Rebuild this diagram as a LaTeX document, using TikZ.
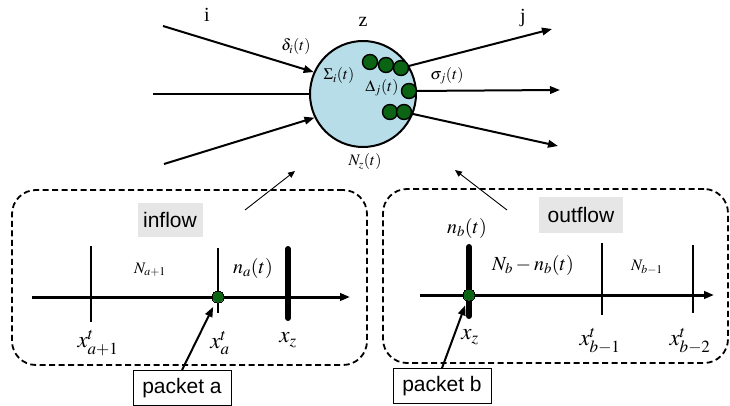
\documentclass[tikz,border=0pt]{standalone}
\usepackage{mathptmx}
\usepackage{fontspec}
\setmainfont{Liberation Serif}
\setsansfont{Liberation Sans}
\usetikzlibrary{arrows.meta}

\definecolor{zonefill}{RGB}{183,222,232}
\definecolor{dotgreen}{RGB}{10,100,20}
\definecolor{labelgray}{RGB}{230,230,230}

\newcommand{\fsz}[1]{\fontsize{#1}{#1}\selectfont}

\begin{document}
\begin{tikzpicture}[x=1pt,y=-1pt,>={Triangle[length=10pt,width=7.5pt]},line width=2pt]
      \tikzset{zone/.style={circle, draw, fill=zonefill, minimum size=106pt, inner sep=0pt},
        dot/.style={circle, draw, line width=1.4pt, fill=dotgreen, minimum size=15pt, inner sep=0pt},
        region/.style={draw, dash pattern=on 6pt off 3.5pt, rounded corners=24pt, line width=1.8pt},
        flowlabel/.style={fill=labelgray, font=\sffamily\fsz{21}, inner sep=0pt},
        packet/.style={draw, line width=0.9pt, fill=white, font=\sffamily\fsz{21}, minimum width=98pt, minimum height=35pt, inner sep=0pt},
        feed/.style={line width=0.9pt, ->, >={Triangle[length=7pt,width=6pt]}},
        small/.style={font=\fsz{16}, inner sep=0pt},
        big/.style={font=\fsz{20}, inner sep=0pt},
        xlabel/.style={font=\fsz{23}, inner sep=0pt},
        tick/.style={line width=1.4pt},
        bar/.style={line width=6pt, line cap=round},
        axis/.style={line width=3pt}}
      \useasboundingbox (0,0) rectangle (730,406);

      % the zone with its links
      \node[region, minimum width=355pt, minimum height=175pt] (inbox) at (189.5,277.5) {};
      \node[region, minimum width=345pt, minimum height=174pt] (outbox) at (555.5,276) {};
      \node[zone] (zone) at (363,94) {};
      \node[big] (zlab) at (363,22) {z};
      \node[big] (ilab) at (207,15) {i};
      \node[big] (jlab) at (523,18) {j};
      \coordinate (in1) at (163,26);
      \coordinate (in2) at (153,94);
      \coordinate (in3) at (164,164);
      \draw[->] (in1) -- (zone.156);
      \draw (in2) -- (zone.west);
      \draw[->] (in3) -- (zone.206);
      \node[dot] (d1) at (370,62) {};
      \node[dot] (d2) at (386,65) {};
      \node[dot] (d3) at (401,68) {};
      \node[dot] (d4) at (409,91) {};
      \node[dot] (d5) at (390,112) {};
      \node[dot] (d6) at (404,112) {};
      \coordinate (out1) at (552,29);
      \coordinate (out2) at (560,90);
      \coordinate (out3) at (558,146);
      \draw[->] (d3) -- (out1);
      \draw[->] (d4) -- (out2);
      \draw[->] (d6) -- (out3);
      \node[small] (delta) at (296,47) {$\delta_i(t)$};
      \node[small] (sigmain) at (339,76) {$\Sigma_i(t)$};
      \node[small] (deltaout) at (382,88) {$\Delta_j(t)$};
      \node[small] (sigmaout) at (447,76) {$\sigma_j(t)$};
      \node[small] (nz) at (365,162) {$N_z(t)$};

      % inflow side
      \coordinate (intail) at (245,210);
      \coordinate (inhead) at (295,171);
      \draw[feed] (intail) -- (inhead);
      \node[flowlabel, minimum width=65pt, minimum height=34pt] (inflow) at (170,220) {inflow};
      \coordinate (aleft) at (32,297);
      \coordinate (aright) at (350,297);
      \draw[axis,->] (aleft) -- (aright);
      \draw[tick] (91,246) -- (91,322);
      \draw[tick] (218,248) -- (218,313);
      \draw[bar] (288,249) -- (288,318);
      \node[dot, minimum size=12pt, line width=0pt] (adot) at (218,297) {};
      \node[small] (na1) at (150,270) {$N_{a+1}$};
      \node[big] (nat) at (253,268) {$n_a(t)$};
      \node[xlabel] (xa1) at (98,343) {$x^t_{a+1}$};
      \node[xlabel] (xa) at (220,343) {$x^t_a$};
      \node[xlabel] (xza) at (288,340) {$x_z$};
      \node[packet] (pa) at (182,388) {packet a};
      \draw[->, shorten >=5pt] (pa.north) -- (adot);

      % outflow side
      \coordinate (outtail) at (507,210);
      \coordinate (outhead) at (455,170);
      \draw[feed] (outtail) -- (outhead);
      \node[flowlabel, minimum width=84pt, minimum height=36pt] (outflow) at (581,215) {outflow};
      \coordinate (bleft) at (420,295);
      \coordinate (bright) at (714,295);
      \draw[axis,->] (bleft) -- (bright);
      \draw[bar] (469,247) -- (469,316);
      \draw[tick] (602,243) -- (602,315);
      \draw[tick] (693,245) -- (693,313);
      \node[dot, minimum size=12pt, line width=0pt] (bdot) at (469,295) {};
      \node[big] (nbt) at (467,228) {$n_b(t)$};
      \node[big] (nbrest) at (533,265) {$N_b-n_b(t)$};
      \node[small] (nb1) at (647,267) {$N_{b-1}$};
      \node[xlabel] (xzb) at (470,337) {$x_z$};
      \node[xlabel] (xb1) at (600,341) {$x^t_{b-1}$};
      \node[xlabel] (xb2) at (690,341) {$x^t_{b-2}$};
      \node[packet] (pb) at (442,386) {packet b};
      \draw[->, shorten >=5pt] (pb.north) -- (bdot);
    \end{tikzpicture}
\end{document}
